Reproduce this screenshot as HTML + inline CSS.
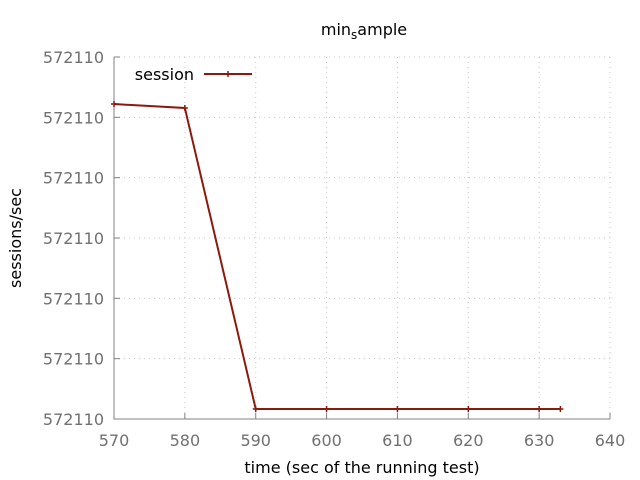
<!DOCTYPE html>
<html><head><meta charset="utf-8"><style>body{margin:0;background:#fff}svg{display:block}text{font-family:"DejaVu Sans","Liberation Sans",sans-serif}</style></head>
<body>
<svg id="chart" width="640" height="480">
<text x="364" y="35" font-size="16" text-anchor="middle">min<tspan font-size="12" dy="4">s</tspan><tspan dy="-4">ample</tspan></text>
<text x="362" y="473" font-size="16" text-anchor="middle">time (sec of the running test)</text>
<text transform="translate(21,238) rotate(-90)" font-size="16" text-anchor="middle">sessions/sec</text>
<g id="grid"></g>
<g id="axes"></g>
<g id="series"></g>
<g>
<text x="194" y="80" font-size="16" text-anchor="end">session</text>
<line x1="204" y1="74" x2="252" y2="74" stroke="#8b1a0e" stroke-width="2"/>
<path d="M228,71v6M225,74h6" stroke="#8b1a0e" stroke-width="1.5"/>
</g>
</svg>
<script>
const xTicks=[570,580,590,600,610,620,630,640];
const yTicks=[0,1,2,3,4,5,6];
const yTickLabels=["572110","572110","572110","572110","572110","572110","572110"];
const times=[570,580,590,600,610,620,630,633];
const sessions=[5.22,5.155,0.166,0.166,0.166,0.166,0.166,0.166];
const L=114,R=610,T=57,B=419;
const xs=v=>L+(v-570)/70*(R-L);
const ys=v=>B-v/6*(B-T);
const NS="http://www.w3.org/2000/svg";
function mk(tag,attrs,parent){const e=document.createElementNS(NS,tag);for(const k in attrs)e.setAttribute(k,attrs[k]);parent.appendChild(e);return e;}
const grid=document.getElementById('grid'),axes=document.getElementById('axes'),ser=document.getElementById('series');
xTicks.forEach(t=>{const x=xs(t);
 const g=mk('line',{x1:x,x2:x,y1:T,y2:B,stroke:'#c8c8c8','stroke-dasharray':'1,4'},grid);
 
 
 const tk=mk('line',{x1:x,x2:x,y1:B,y2:B-6,stroke:'#808080'},axes);
 
 
 const tx=mk('text',{x:x,y:B+27,'font-size':16,fill:'#707070','text-anchor':'middle'},axes);tx.textContent=t;
 
 
});
yTicks.forEach((t,i)=>{const y=ys(t);
 const g=mk('line',{x1:L,x2:R,y1:y,y2:y,stroke:'#c8c8c8','stroke-dasharray':'1,4'},grid);
 
 
 const tk=mk('line',{x1:L,x2:L+6,y1:y,y2:y,stroke:'#808080'},axes);
 
 
 const tx=mk('text',{x:104,y:y+6,'font-size':16,fill:'#707070','text-anchor':'end'},axes);tx.textContent=yTickLabels[i];
 
 
});
const ax=mk('path',{d:`M${L},${T}V${B}H${R}`,fill:'none',stroke:'#808080'},axes);


const pl=mk('polyline',{points:times.map((t,i)=>xs(t)+','+ys(sessions[i])).join(' '),fill:'none',stroke:'#8b1a0e','stroke-width':2},ser);


times.forEach((t,i)=>{const x=xs(t),y=ys(sessions[i]);
 const m=mk('path',{d:`M${x},${y-3}v6M${x-3},${y}h6`,stroke:'#8b1a0e','stroke-width':1.5},ser);
 
 
});
</script>
</body></html>
